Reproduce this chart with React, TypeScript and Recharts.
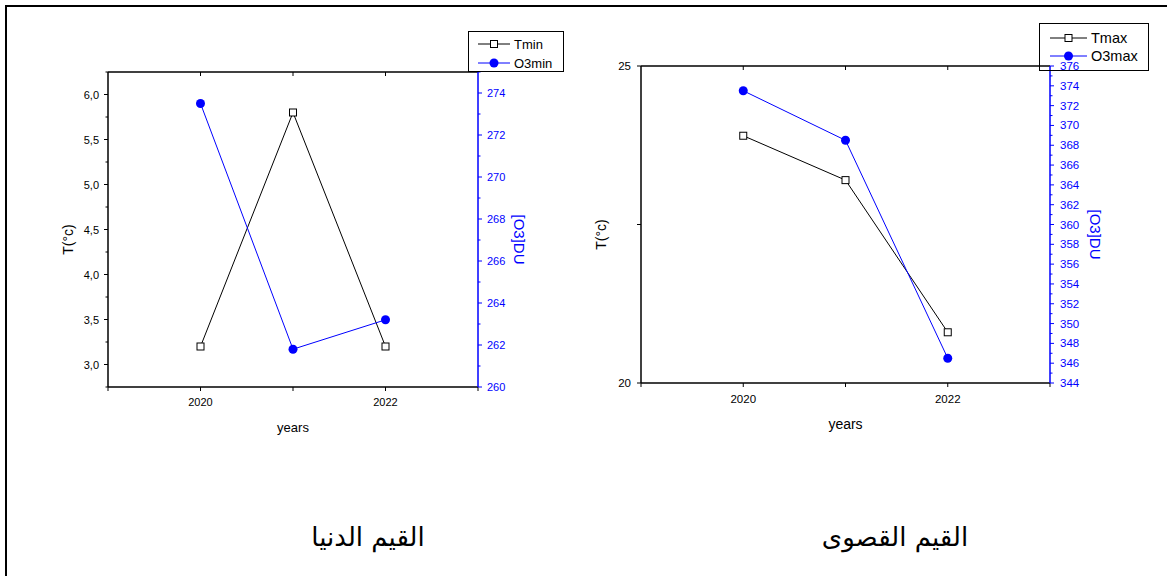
import React from 'react';
import { LineChart, Line, XAxis, YAxis, Label } from 'recharts';

// values
const years = [2020, 2021, 2022];
const tmin = [3.2, 5.8, 3.2];
const o3min = [273.5, 261.8, 263.2];
const tmax = [23.9, 23.2, 20.8];
const o3max = [373.5, 368.5, 346.5];

const xTicks = [2019, 2020, 2021, 2022, 2023];
const xTopTicks = [2020, 2021, 2022];
const xLabelled = [2020, 2022];

const tminTicks = [2.75, 3, 3.25, 3.5, 3.75, 4, 4.25, 4.5, 4.75, 5, 5.25, 5.5, 5.75, 6, 6.25];
const tminMajor = [3, 3.5, 4, 4.5, 5, 5.5, 6];
const o3minTicks = [260, 261, 262, 263, 264, 265, 266, 267, 268, 269, 270, 271, 272, 273, 274, 275];
const o3minMajor = [260, 262, 264, 266, 268, 270, 272, 274];

const tmaxTicks = [20, 22.5, 25];
const tmaxLabelled = [20, 25];
const o3maxTicks = [
  344, 345, 346, 347, 348, 349, 350, 351, 352, 353, 354, 355, 356, 357, 358, 359, 360,
  361, 362, 363, 364, 365, 366, 367, 368, 369, 370, 371, 372, 373, 374, 375, 376,
];
const o3maxMajor = [344, 346, 348, 350, 352, 354, 356, 358, 360, 362, 364, 366, 368, 370, 372, 374, 376];

const legendMin = ['Tmin', 'O3min'];
const legendMax = ['Tmax', 'O3max'];
const titles = ['القيم الدنيا', 'القيم القصوى'];

const BLUE = '#0000ff';
const FONT = 'Arial, "Liberation Sans", sans-serif';

type Side = 'left' | 'right' | 'bottom' | 'top';
type TickCfg = {
  side: Side;
  major?: number[];
  labelled?: number[];
  fmt?: (v: number) => string;
  color: string;
  size: number;
  gap: number;
};

// tick line + label drawn by hand so major/minor ticks can differ
const makeTick = (c: TickCfg) => (props: any) => {
  const { x, y, payload } = props;
  const v = payload.value as number;
  const isMajor = !c.major || c.major.includes(v);
  const len = isMajor ? 4 : 2.5;
  const show = !!c.fmt && (c.labelled ? c.labelled.includes(v) : isMajor);
  let line = null;
  let tx = x;
  let ty = y;
  let anchor = 'middle';
  if (c.side === 'left') {
    line = <line x1={x - len} x2={x} y1={y} y2={y} />;
    tx = x - c.gap;
    anchor = 'end';
  } else if (c.side === 'right') {
    line = <line x1={x} x2={x + len} y1={y} y2={y} />;
    tx = x + c.gap;
    anchor = 'start';
  } else {
    line = <line x1={x} x2={x} y1={y} y2={y + len} />;
    ty = y + c.gap;
  }
  return (
    <g>
      <g stroke={c.color} strokeWidth={1}>{line}</g>
      {show && (
        <text x={tx} y={ty} textAnchor={anchor} dominantBaseline="central" fill={c.color} fontSize={c.size} fontFamily={FONT}>
          {c.fmt!(v)}
        </text>
      )}
    </g>
  );
};

const sideTitle = (text: string, dx: number, dy: number, angle: number, color: string, size: number) => (props: any) => {
  const vb = props.viewBox;
  if (!vb) return null;
  const cx = vb.x + dx;
  const cy = vb.y + (angle === 0 ? 0 : vb.height / 2) + dy;
  return (
    <text x={cx} y={cy} transform={`rotate(${angle} ${cx} ${cy})`} textAnchor="middle" dominantBaseline="central" fill={color} fontSize={size} fontFamily={FONT}>
      {text}
    </text>
  );
};

const SquareDot = (props: any) => {
  const { cx, cy, index } = props;
  return <rect key={`sq-${index}`} x={cx - 3.5} y={cy - 3.5} width={7} height={7} fill="#fff" stroke="#000" strokeWidth={1} />;
};

const comma = (v: number) => v.toFixed(1).replace('.', ',');
const plain = (v: number) => String(v);

interface PanelProps {
  left: number;
  width: number;
  margin: { top: number; right: number; bottom: number; left: number };
  t: number[];
  o: number[];
  tDomain: [number, number];
  tTicks: number[];
  tMajor?: number[];
  tLabelled?: number[];
  tFmt: (v: number) => string;
  oDomain: [number, number];
  oTicks: number[];
  oMajor: number[];
  fs: number;
  titleFs: number;
  yearsFs: number;
  xGap: number;
  yGap: number;
  tTitleDx: number;
  oTitleDx: number;
  yearsDy: number;
}

const Panel: React.FC<PanelProps> = (p) => {
  const data = years.map((yr, i) => ({ year: yr, t: p.t[i], o: p.o[i] }));
  return (
    <div style={{ position: 'absolute', left: p.left, top: 0 }}>
      <LineChart width={p.width} height={460} data={data} margin={p.margin}>
        <XAxis
          xAxisId="b"
          dataKey="year"
          type="number"
          domain={[2019, 2023]}
          ticks={xTicks}
          interval={0}
          height={60}
          tickSize={0}
          tickMargin={0}
          tickLine={false}
          axisLine={{ stroke: '#000', strokeWidth: 1.5 }}
          tick={makeTick({ side: 'bottom', labelled: xLabelled, fmt: plain, color: '#000', size: p.fs, gap: p.xGap })}
        >
          <Label content={sideTitle('years', (p.width - p.margin.left - p.margin.right - 120) / 2, p.yearsDy, 0, '#000', p.yearsFs)} />
        </XAxis>
        <XAxis
          xAxisId="top"
          orientation="top"
          dataKey="year"
          type="number"
          domain={[2019, 2023]}
          ticks={xTopTicks}
          interval={0}
          height={1}
          tickSize={0}
          tickMargin={0}
          tickLine={false}
          axisLine={{ stroke: '#000', strokeWidth: 1.5 }}
          tick={makeTick({ side: 'top', color: '#000', size: p.fs, gap: 0 })}
        />
        <YAxis
          yAxisId="t"
          type="number"
          domain={p.tDomain}
          ticks={p.tTicks}
          interval={0}
          width={60}
          tickSize={0}
          tickMargin={0}
          tickLine={false}
          axisLine={{ stroke: '#000', strokeWidth: 1.5 }}
          tick={makeTick({ side: 'left', major: p.tMajor, labelled: p.tLabelled, fmt: p.tFmt, color: '#000', size: p.fs, gap: p.yGap })}
        >
          <Label content={sideTitle('T(°c)', p.tTitleDx, 10, -90, '#000', p.titleFs)} />
        </YAxis>
        <YAxis
          yAxisId="o"
          orientation="right"
          type="number"
          domain={p.oDomain}
          ticks={p.oTicks}
          interval={0}
          width={60}
          tickSize={0}
          tickMargin={0}
          tickLine={false}
          axisLine={{ stroke: BLUE, strokeWidth: 1.5 }}
          tick={makeTick({ side: 'right', major: p.oMajor, fmt: plain, color: BLUE, size: p.fs, gap: p.yGap })}
        >
          <Label content={sideTitle('[O3]DU', p.oTitleDx, 10, 90, BLUE, p.titleFs + 1)} />
        </YAxis>
        <Line xAxisId="b" yAxisId="t" type="linear" dataKey="t" stroke="#000" strokeWidth={1} dot={SquareDot} isAnimationActive={false} />
        <Line
          xAxisId="b"
          yAxisId="o"
          type="linear"
          dataKey="o"
          stroke={BLUE}
          strokeWidth={1}
          dot={{ r: 4.5, fill: BLUE, stroke: BLUE, strokeWidth: 0 }}
          isAnimationActive={false}
        />
      </LineChart>
    </div>
  );
};

const LegendBox: React.FC<{ x: number; y: number; w: number; h: number; names: string[]; rowY: number[]; lineX: [number, number]; fs: number }> = ({
  x, y, w, h, names, rowY, lineX, fs,
}) => (
  <svg style={{ position: 'absolute', left: x, top: y, overflow: 'visible' }} width={w} height={h}>
    <rect x={0.5} y={0.5} width={w - 1} height={h - 1} fill="none" stroke="#000" strokeWidth={1} />
    <line x1={lineX[0]} x2={lineX[1]} y1={rowY[0]} y2={rowY[0]} stroke="#000" strokeWidth={1} />
    <rect x={(lineX[0] + lineX[1]) / 2 - 3.5} y={rowY[0] - 3.5} width={7} height={7} fill="#fff" stroke="#000" />
    <line x1={lineX[0]} x2={lineX[1]} y1={rowY[1]} y2={rowY[1]} stroke={BLUE} strokeWidth={1} />
    <circle cx={(lineX[0] + lineX[1]) / 2} cy={rowY[1]} r={4.5} fill={BLUE} />
    {names.map((n, i) => (
      <text key={n} x={lineX[1] + 4} y={rowY[i]} dominantBaseline="central" fontSize={fs} fontFamily={FONT} fill="#000">
        {n}
      </text>
    ))}
  </svg>
);

export default function App() {
  return (
    <div style={{ position: 'absolute', left: 0, top: 0, width: 1169, height: 576, background: '#fff', overflow: 'hidden' }}>
      <div style={{ position: 'absolute', left: 5, top: 5, width: 1160, height: 580, borderTop: '2px solid #000', borderLeft: '2px solid #000' }} />
      <Panel
        left={0}
        width={590}
        margin={{ top: 71, right: 52, bottom: 13, left: 48 }}
        t={tmin}
        o={o3min}
        tDomain={[2.75, 6.25]}
        tTicks={tminTicks}
        tMajor={tminMajor}
        tFmt={comma}
        oDomain={[260, 275]}
        oTicks={o3minTicks}
        oMajor={o3minMajor}
        fs={11}
        titleFs={14}
        yearsFs={13}
        xGap={14.5}
        yGap={9}
        tTitleDx={20.3}
        oTitleDx={41}
        yearsDy={40.3}
      />
      <Panel
        left={580}
        width={589}
        margin={{ top: 65, right: 59, bottom: 17, left: 1 }}
        t={tmax}
        o={o3max}
        tDomain={[20, 25]}
        tTicks={tmaxTicks}
        tLabelled={tmaxLabelled}
        tFmt={plain}
        oDomain={[344, 376]}
        oTicks={o3maxTicks}
        oMajor={o3maxMajor}
        fs={11.5}
        titleFs={14}
        yearsFs={14}
        xGap={15.7}
        yGap={10}
        tTitleDx={19.7}
        oTitleDx={45}
        yearsDy={41}
      />
      <LegendBox x={468} y={31} w={96} h={41} names={legendMin} rowY={[13, 32]} lineX={[10, 42]} fs={13} />
      <LegendBox x={1039} y={23} w={110} h={48} names={legendMax} rowY={[15, 33]} lineX={[11, 48]} fs={14.5} />
      {titles.map((t, i) => (
        <div
          key={t}
          dir="rtl"
          style={{
            position: 'absolute',
            left: (i === 0 ? 368 : 895) - 150,
            top: 520,
            width: 300,
            textAlign: 'center',
            fontSize: 26,
            lineHeight: '34px',
            fontFamily: '"DejaVu Sans", sans-serif',
            color: '#000',
          }}
        >
          {t}
        </div>
      ))}
    </div>
  );
}
